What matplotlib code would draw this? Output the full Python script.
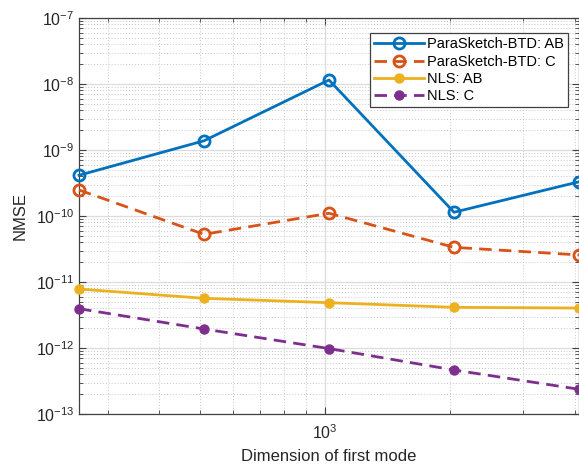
import matplotlib.pyplot as plt
import numpy as np

plt.rcParams["font.family"] = ["Liberation Sans", "DejaVu Sans"]
plt.rcParams["mathtext.fontset"] = "custom"
plt.rcParams["mathtext.rm"] = "Liberation Sans"
plt.rcParams["mathtext.it"] = "Liberation Sans:italic"

# dimension of the first mode
dims = [256, 512, 1024, 2048, 4096]

# NMSE per method / factor
sketch_ab = [4.14e-10, 1.38e-9, 1.15e-8, 1.14e-10, 3.3e-10]
sketch_c = [2.48e-10, 5.27e-11, 1.10e-10, 3.35e-11, 2.57e-11]
nls_ab = [7.83e-12, 5.66e-12, 4.86e-12, 4.13e-12, 4.03e-12]
nls_c = [3.94e-12, 1.94e-12, 9.8e-13, 4.64e-13, 2.37e-13]

labels = ["ParaSketch-BTD: AB", "ParaSketch-BTD: C", "NLS: AB", "NLS: C"]
colors = ["#0072BD", "#D95319", "#EDB120", "#7E2F8E"]

fig = plt.figure(figsize=(5.79, 4.65), dpi=100)
ax = fig.add_axes([79 / 579, 1 - 414 / 465, 500 / 579, 396 / 465])

dash = (4.5, 2.6)
ax.plot(dims, sketch_ab, "-o", color=colors[0], lw=2, ms=8, mew=2,
        mfc="none", clip_on=False, zorder=5, label=labels[0])
ax.plot(dims, sketch_c, "--o", color=colors[1], lw=2, ms=8, mew=2,
        mfc="none", dashes=dash, clip_on=False, zorder=5, label=labels[1])
ax.plot(dims, nls_ab, "-o", color=colors[2], lw=2, ms=6.5,
        clip_on=False, zorder=5, label=labels[2])
ax.plot(dims, nls_c, "--o", color=colors[3], lw=2, ms=6.5,
        dashes=dash, clip_on=False, zorder=5, label=labels[3])

ax.set_xscale("log")
ax.set_yscale("log")
ax.set_xlim(256, 4096)
ax.set_ylim(1e-13, 1e-7)

ax.set_xticks([1000])
ax.set_xticklabels([r"$10^{3}$"])
ax.set_xticks([300, 400, 500, 600, 700, 800, 900, 2000, 3000, 4000], minor=True)
ax.set_yticks([10.0 ** k for k in range(-13, -6)])
ax.set_yticklabels([r"$10^{%d}$" % k for k in range(-13, -6)])

ax.grid(True, which="major", color="#dcdcdc", lw=0.9, ls="-")
ax.grid(True, which="minor", color="#c8c8c8", lw=0.7, ls=(0, (1, 2)))
ax.set_axisbelow(True)

for s in ax.spines.values():
    s.set_color("#404040")
    s.set_linewidth(0.9)
ax.tick_params(which="both", direction="in", colors="#404040",
               labelcolor="#262626", labelsize=11.5, top=True, right=True)
ax.tick_params(which="major", length=5)
ax.tick_params(which="minor", length=3)
ax.tick_params(axis="x", pad=7)

ax.set_xlabel("Dimension of first mode", fontsize=12, color="#262626",
              labelpad=5)
ax.set_ylabel("NMSE", fontsize=12, color="#262626", labelpad=6)

leg = ax.legend(loc="upper right", bbox_to_anchor=(0.978, 0.962), fontsize=10.5,
                fancybox=False, framealpha=1, edgecolor="#404040",
                handlelength=3.4, handletextpad=0.2, borderpad=0.3,
                labelspacing=0.22, borderaxespad=0)
leg.get_frame().set_linewidth(0.9)
leg.set_zorder(10)

fig.savefig("out.png", dpi=100)
